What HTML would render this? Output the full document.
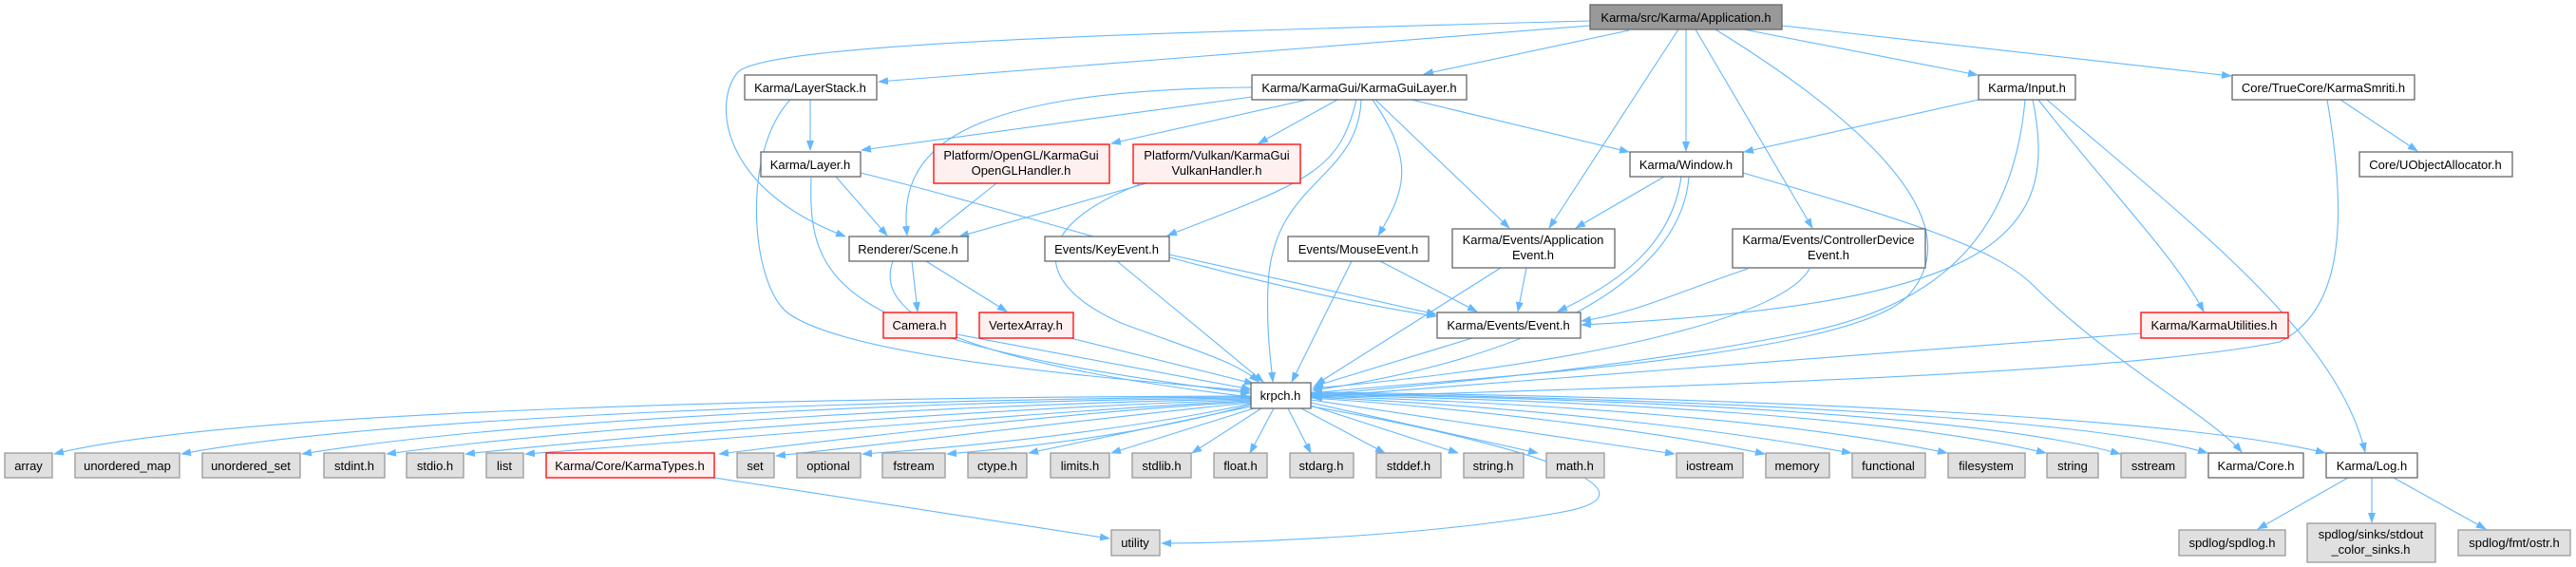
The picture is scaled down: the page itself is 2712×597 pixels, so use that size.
<!DOCTYPE html>
<html><head><meta charset="utf-8"><style>
html,body{margin:0;padding:0;background:#fff;}
svg{display:block;}
text{font-family:"Liberation Sans",Arial,sans-serif;font-size:13px;fill:#000;text-anchor:middle;}
.e{fill:none;stroke:#63b8ff;stroke-width:1.1;marker-end:url(#a);}
.w{fill:#fff;stroke:#666;stroke-width:1.3;}
.g{fill:#e0e0e0;stroke:#999;stroke-width:1.3;}
.r{fill:#fff0f0;stroke:#f00;stroke-width:1.3;}
.m{fill:#999;stroke:#666;stroke-width:1.3;}
</style></head><body>
<svg width="2712" height="597" viewBox="0 0 2712 597" xmlns="http://www.w3.org/2000/svg">
<defs><marker id="a" markerUnits="userSpaceOnUse" markerWidth="11" markerHeight="8" refX="10" refY="4" orient="auto"><path d="M0,0 L11,4 L0,8 z" fill="#63b8ff"/></marker></defs>
<g>
<!-- Application edges -->
<path class="e" d="M1674,27 L925,86"/>
<path class="e" d="M1674,22 C1200,35 800,45 776,77 C750,110 760,200 890,249"/>
<path class="e" d="M1715,32 L1499,78"/>
<path class="e" d="M1767,31 L1631,240"/>
<path class="e" d="M1775,31 L1775,159"/>
<path class="e" d="M1785,31 L1908,240"/>
<path class="e" d="M1806,31 C1950,120 2080,230 2010,310 C1950,380 1500,400 1382,414"/>
<path class="e" d="M1836,31 L2082,79"/>
<path class="e" d="M1876,27 L2349,80"/>
<!-- KarmaGuiLayer -->
<path class="e" d="M1318,92 C1000,95 945,160 955,248"/>
<path class="e" d="M1318,102 L907,158"/>
<path class="e" d="M1376,105 L1170,151"/>
<path class="e" d="M1408,105 L1325,151"/>
<path class="e" d="M1428,105 C1410,180 1380,190 1229,248"/>
<path class="e" d="M1433,105 C1430,190 1340,190 1335,300 C1333,350 1338,380 1340,402"/>
<path class="e" d="M1445,105 C1490,170 1480,200 1451,248"/>
<path class="e" d="M1448,105 L1589,240"/>
<path class="e" d="M1486,105 L1715,160"/>
<!-- LayerStack / Layer -->
<path class="e" d="M853,105 L853,158"/>
<path class="e" d="M832,105 C780,160 790,300 830,330 C900,380 1200,400 1316,412"/>
<path class="e" d="M880,186 L934,248"/>
<path class="e" d="M854,187 C850,300 880,360 1316,414"/>
<path class="e" d="M906,182 C1100,230 1300,300 1512,333"/>
<!-- handlers -->
<path class="e" d="M1049,193 L980,248"/>
<path class="e" d="M1207,193 L1010,249"/>
<path class="e" d="M1200,194 C1080,240 1090,300 1180,340 C1260,370 1300,380 1325,402"/>
<!-- Window -->
<path class="e" d="M1752,186 L1659,240"/>
<path class="e" d="M1770,186 C1760,260 1700,300 1640,328"/>
<path class="e" d="M1778,186 C1770,300 1600,380 1382,411"/>
<path class="e" d="M1835,182 C2000,230 2100,260 2140,300 C2220,380 2330,440 2360,476"/>
<!-- Input -->
<path class="e" d="M2083,105 L1836,160"/>
<path class="e" d="M2132,105 C2120,240 2050,320 1900,350 C1700,390 1500,405 1382,416"/>
<path class="e" d="M2140,105 C2170,250 2100,320 1665,342"/>
<path class="e" d="M2146,105 C2220,200 2290,270 2320,328"/>
<path class="e" d="M2155,105 C2300,230 2460,350 2490,476"/>
<!-- Smriti -->
<path class="e" d="M2464,105 L2545,159"/>
<path class="e" d="M2450,105 C2475,250 2460,330 2400,360 C2200,400 1600,410 1382,419"/>
<!-- Scene -->
<path class="e" d="M940,275 C920,330 1000,380 1316,418"/>
<path class="e" d="M960,275 L966,328"/>
<path class="e" d="M975,275 L1060,328"/>
<!-- events -->
<path class="e" d="M1176,275 L1330,402"/>
<path class="e" d="M1231,268 L1512,331"/>
<path class="e" d="M1423,275 L1360,402"/>
<path class="e" d="M1453,275 L1555,328"/>
<path class="e" d="M1580,282 L1385,405"/>
<path class="e" d="M1607,282 L1598,328"/>
<path class="e" d="M1840,283 C1760,310 1720,330 1665,338"/>
<path class="e" d="M1905,283 C1880,330 1700,380 1382,409"/>
<path class="e" d="M1007,352 L1317,410"/>
<path class="e" d="M1127,356 L1320,404"/>
<path class="e" d="M1550,356 L1383,407"/>
<path class="e" d="M2254,351 L1382,418"/>
<!-- krpch to bottom -->
<path class="e" d="M1317,417 C900,418 250,430 57,478"/>
<path class="e" d="M1317,418 C950,420 400,438 191,478"/>
<path class="e" d="M1317,419 C1000,422 550,440 318,478"/>
<path class="e" d="M1317,420 C1050,425 650,445 407,478"/>
<path class="e" d="M1317,421 C1100,428 750,450 490,478"/>
<path class="e" d="M1317,422 C1150,430 850,455 553,478"/>
<path class="e" d="M1317,424 C1200,435 1000,460 817,480"/>
<path class="e" d="M1317,425 C1250,440 1100,465 908,478"/>
<path class="e" d="M1317,426 C1250,445 1150,465 997,478"/>
<path class="e" d="M1317,428 L1083,477"/>
<path class="e" d="M1320,430 L1170,477"/>
<path class="e" d="M1328,430 L1255,477"/>
<path class="e" d="M1341,430 L1316,477"/>
<path class="e" d="M1356,430 L1380,477"/>
<path class="e" d="M1370,430 L1458,477"/>
<path class="e" d="M1380,427 L1535,477"/>
<path class="e" d="M1380,424 L1619,477"/>
<path class="e" d="M1380,421 C1500,440 1650,460 1763,478"/>
<path class="e" d="M1380,419 C1550,430 1750,455 1858,478"/>
<path class="e" d="M1380,418 C1600,428 1800,450 1949,477"/>
<path class="e" d="M1380,417 C1650,425 1900,445 2050,477"/>
<path class="e" d="M1380,416 C1700,422 2000,440 2154,477"/>
<path class="e" d="M1380,415 C1750,420 2100,440 2232,478"/>
<path class="e" d="M1380,414 C1800,420 2200,440 2324,477"/>
<path class="e" d="M1380,413 C1850,418 2300,440 2448,477"/>
<path class="e" d="M1381,428 C1620,470 1760,520 1640,540 C1500,565 1300,572 1223,572"/>
<path class="e" d="M1317,423 C1150,432 900,460 757,478"/>
<path class="e" d="M752,503 L1168,567"/>
<path class="e" d="M2472,503 L2377,557"/>
<path class="e" d="M2497,503 L2497,550"/>
<path class="e" d="M2520,503 L2617,557"/>
</g>
<g>
<rect class="m" x="1674" y="5" width="202" height="26"/><text x="1775" y="23">Karma/src/Karma/Application.h</text>
<rect class="w" x="784" y="79" width="139" height="26"/><text x="853" y="97">Karma/LayerStack.h</text>
<rect class="w" x="1318" y="79" width="226" height="26"/><text x="1431" y="97">Karma/KarmaGui/KarmaGuiLayer.h</text>
<rect class="w" x="2083" y="79" width="102" height="26"/><text x="2134" y="97">Karma/Input.h</text>
<rect class="w" x="2350" y="79" width="192" height="26"/><text x="2446" y="97">Core/TrueCore/KarmaSmriti.h</text>
<rect class="w" x="801" y="160" width="105" height="26"/><text x="853" y="178">Karma/Layer.h</text>
<rect class="r" x="983" y="152" width="185" height="41"/><text x="1075" y="168">Platform/OpenGL/KarmaGui</text><text x="1075" y="184">OpenGLHandler.h</text>
<rect class="r" x="1193" y="152" width="176" height="41"/><text x="1281" y="168">Platform/Vulkan/KarmaGui</text><text x="1281" y="184">VulkanHandler.h</text>
<rect class="w" x="1716" y="160" width="119" height="26"/><text x="1775" y="178">Karma/Window.h</text>
<rect class="w" x="2484" y="160" width="161" height="26"/><text x="2564" y="178">Core/UObjectAllocator.h</text>
<rect class="w" x="894" y="249" width="125" height="26"/><text x="956" y="267">Renderer/Scene.h</text>
<rect class="w" x="1100" y="249" width="131" height="26"/><text x="1165" y="267">Events/KeyEvent.h</text>
<rect class="w" x="1356" y="249" width="148" height="26"/><text x="1430" y="267">Events/MouseEvent.h</text>
<rect class="w" x="1529" y="241" width="171" height="41"/><text x="1614" y="257">Karma/Events/Application</text><text x="1614" y="273">Event.h</text>
<rect class="w" x="1824" y="241" width="203" height="41"/><text x="1925" y="257">Karma/Events/ControllerDevice</text><text x="1925" y="273">Event.h</text>
<rect class="r" x="930" y="329" width="77" height="27"/><text x="968" y="347">Camera.h</text>
<rect class="r" x="1031" y="329" width="99" height="27"/><text x="1080" y="347">VertexArray.h</text>
<rect class="w" x="1513" y="329" width="151" height="27"/><text x="1588" y="347">Karma/Events/Event.h</text>
<rect class="r" x="2254" y="329" width="155" height="27"/><text x="2331" y="347">Karma/KarmaUtilities.h</text>
<rect class="w" x="1317" y="403" width="63" height="27"/><text x="1348" y="421">krpch.h</text>
<rect class="g" x="5" y="477" width="50" height="26"/><text x="30" y="495">array</text>
<rect class="g" x="79" y="477" width="110" height="26"/><text x="134" y="495">unordered_map</text>
<rect class="g" x="213" y="477" width="103" height="26"/><text x="264" y="495">unordered_set</text>
<rect class="g" x="341" y="477" width="64" height="26"/><text x="373" y="495">stdint.h</text>
<rect class="g" x="428" y="477" width="60" height="26"/><text x="458" y="495">stdio.h</text>
<rect class="g" x="512" y="477" width="39" height="26"/><text x="531" y="495">list</text>
<rect class="r" x="575" y="477" width="177" height="26"/><text x="663" y="495">Karma/Core/KarmaTypes.h</text>
<rect class="g" x="776" y="477" width="39" height="26"/><text x="795" y="495">set</text>
<rect class="g" x="839" y="477" width="67" height="26"/><text x="872" y="495">optional</text>
<rect class="g" x="929" y="477" width="66" height="26"/><text x="962" y="495">fstream</text>
<rect class="g" x="1019" y="477" width="62" height="26"/><text x="1050" y="495">ctype.h</text>
<rect class="g" x="1106" y="477" width="62" height="26"/><text x="1137" y="495">limits.h</text>
<rect class="g" x="1192" y="477" width="62" height="26"/><text x="1223" y="495">stdlib.h</text>
<rect class="g" x="1278" y="477" width="56" height="26"/><text x="1306" y="495">float.h</text>
<rect class="g" x="1358" y="477" width="67" height="26"/><text x="1391" y="495">stdarg.h</text>
<rect class="g" x="1449" y="477" width="68" height="26"/><text x="1483" y="495">stddef.h</text>
<rect class="g" x="1541" y="477" width="63" height="26"/><text x="1572" y="495">string.h</text>
<rect class="g" x="1628" y="477" width="61" height="26"/><text x="1658" y="495">math.h</text>
<rect class="g" x="1765" y="477" width="70" height="26"/><text x="1800" y="495">iostream</text>
<rect class="g" x="1859" y="477" width="67" height="26"/><text x="1892" y="495">memory</text>
<rect class="g" x="1950" y="477" width="77" height="26"/><text x="1988" y="495">functional</text>
<rect class="g" x="2051" y="477" width="81" height="26"/><text x="2091" y="495">filesystem</text>
<rect class="g" x="2155" y="477" width="54" height="26"/><text x="2182" y="495">string</text>
<rect class="g" x="2233" y="477" width="68" height="26"/><text x="2267" y="495">sstream</text>
<rect class="w" x="2325" y="477" width="100" height="26"/><text x="2375" y="495">Karma/Core.h</text>
<rect class="w" x="2449" y="477" width="96" height="26"/><text x="2497" y="495">Karma/Log.h</text>
<rect class="g" x="1170" y="558" width="51" height="27"/><text x="1195" y="576">utility</text>
<rect class="g" x="2294" y="558" width="112" height="27"/><text x="2350" y="576">spdlog/spdlog.h</text>
<rect class="g" x="2429" y="551" width="135" height="41"/><text x="2496" y="567">spdlog/sinks/stdout</text><text x="2496" y="583">_color_sinks.h</text>
<rect class="g" x="2588" y="558" width="118" height="27"/><text x="2647" y="576">spdlog/fmt/ostr.h</text>
</g>
</svg>
</body></html>
